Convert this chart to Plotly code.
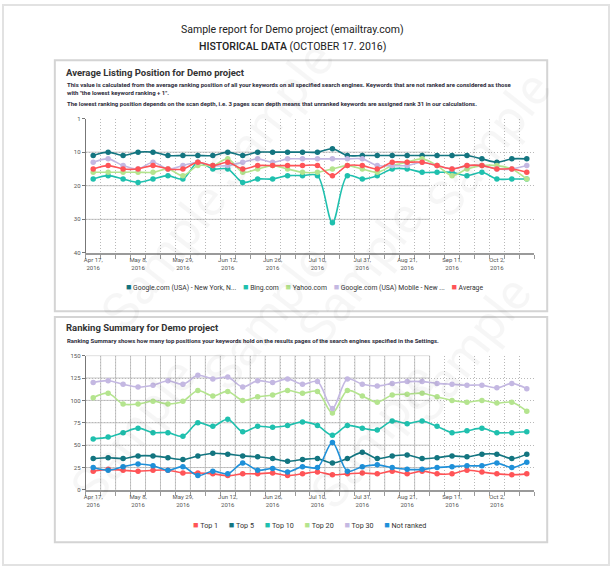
import plotly.graph_objects as go

W, H = 610, 569

# ---------------- data ----------------
dates = ["Apr 17", "Apr 24", "May 1", "May 8", "May 15", "May 22", "May 29", "Jun 1",
         "Jun 5", "Jun 12", "Jun 15", "Jun 19", "Jun 26", "Jun 29", "Jul 3", "Jul 10",
         "Jul 17", "Jul 24", "Jul 31", "Aug 7", "Aug 14", "Aug 21", "Aug 28", "Sep 4",
         "Sep 11", "Sep 18", "Sep 25", "Oct 2", "Oct 9", "Oct 16"]
labelled_dates = ["Apr 17", "May 8", "May 29", "Jun 12", "Jun 26", "Jul 10",
                  "Jul 31", "Aug 21", "Sep 11", "Oct 2"]
year = "2016"

# Average listing position (rank)
google = [11, 10, 11, 10, 10, 11, 11, 11, 11, 10, 11, 10, 10, 10, 10,
          10, 9, 11, 11, 11, 11, 11, 11, 11, 11, 11, 12, 13, 12, 12]
bing = [18, 17, 18, 19, 18, 17, 18, 13, 15, 15, 19, 18, 18, 17, 17,
        17, 31, 17, 18, 17, 15, 15, 16, 16, 16, 17, 16, 18, 18, 18]
yahoo = [16, 16, 16, 16, 16, 15, 17, 14, 14, 12, 16, 15, 14, 15, 16,
         16, 15, 14, 15, 16, 14, 13, 12, 14, 17, 15, 14, 14, 15, 18]
mobile = [13, 12, 14, 15, 13, 15, 14, 13, 14, 14, 13, 12, 13, 12, 12,
          12, 12, 12, 12, 14, 14, 14, 13, 14, 15, 14, 14, 15, 15, 14]
average = [15, 14, 15, 15, 14, 15, 15, 13, 14, 13, 15, 14, 14, 14, 14,
           14, 17, 14, 14, 15, 13, 13, 13, 14, 15, 14, 14, 15, 15, 16]
pos_names = ["Google.com (USA) - New York, N...", "Bing.com", "Yahoo.com",
             "Google.com (USA) Mobile - New ...", "Average"]
pos_colors = ["#137580", "#1fc0ae", "#b4e48e", "#c4b8e2", "#ff5457"]
pos_ticks = [0, 10, 20, 30, 40]
pos_ticktext = ["1", "10", "20", "30", "40"]

# Ranking summary (keyword counts)
top1 = [21, 23, 22, 21, 22, 22, 19, 19, 18, 16, 18, 18, 19, 16, 18,
        20, 17, 18, 19, 18, 21, 18, 21, 18, 18, 22, 20, 18, 17, 18]
top5 = [35, 36, 35, 38, 38, 36, 34, 38, 41, 40, 38, 37, 35, 32, 34,
        35, 30, 35, 42, 35, 38, 39, 35, 36, 38, 37, 40, 40, 35, 40]
top10 = [57, 59, 64, 69, 64, 64, 60, 75, 71, 79, 65, 71, 70, 72, 76,
         72, 61, 72, 69, 67, 77, 74, 77, 71, 64, 66, 69, 64, 64, 65]
top20 = [103, 108, 96, 96, 99, 96, 99, 111, 105, 110, 100, 104, 106, 111, 108,
         110, 86, 111, 105, 98, 106, 107, 108, 104, 100, 98, 100, 97, 98, 88]
top30 = [120, 122, 118, 115, 117, 122, 118, 128, 124, 126, 115, 122, 120, 124, 118,
         121, 91, 124, 118, 116, 119, 121, 121, 119, 118, 117, 117, 114, 119, 113]
not_ranked = [25, 22, 26, 29, 27, 22, 26, 16, 21, 18, 30, 22, 24, 20, 26,
              25, 53, 21, 26, 28, 25, 23, 23, 25, 26, 27, 27, 30, 25, 31]
sum_names = ["Top 1", "Top 5", "Top 10", "Top 20", "Top 30", "Not ranked"]
sum_colors = ["#ff5457", "#137580", "#1fc0ae", "#b4e48e", "#c4b8e2", "#1e90d9"]
sum_ticks = [0, 25, 50, 75, 100, 125, 150]

# ---------------- helpers (layout only) ----------------
def px(x):
    return x / W

def py(y):
    return 1 - y / H

FONT = "Roboto, 'Open Sans', sans-serif"
ticktext_x = [(d + ",<br>" + year) if d in labelled_dates else "" for d in dates]
n_solid = 23   # the reference grid is drawn solid over the first 23 columns only

fig = go.Figure()

pos_series = [google, bing, yahoo, mobile, average]
for name, color, vals in zip(pos_names, pos_colors, pos_series):
    fig.add_trace(go.Scatter(
        x=dates, y=vals, name=name, mode="lines+markers",
        line=dict(color=color, width=1.6, shape="spline", smoothing=0.9),
        marker=dict(color=color, size=5.5),
        xaxis="x", yaxis="y", showlegend=False))

sum_series = [top1, top5, top10, top20, top30, not_ranked]
for name, color, vals in zip(sum_names, sum_colors, sum_series):
    fig.add_trace(go.Scatter(
        x=dates, y=vals, name=name, mode="lines+markers",
        line=dict(color=color, width=1.6, shape="spline", smoothing=0.9),
        marker=dict(color=color, size=5.5),
        xaxis="x2", yaxis="y2", showlegend=False))

GRID = "#c6c6c6"
DOT = "1px,2px"
xcommon = dict(
    type="category", range=[-0.5, len(dates) - 0.5],
    tickmode="array", tickvals=dates, ticktext=ticktext_x,
    tickson="boundaries", ticks="outside", ticklen=4, tickcolor="#9a9a9a",
    showline=True, linecolor="#9a9a9a", linewidth=1.5,
    tickfont=dict(family=FONT, size=6, color="#555"),
    showgrid=True, gridcolor="#b8b8b8", gridwidth=1, griddash=DOT, tickangle=0,
    fixedrange=True,
)
ycommon = dict(
    ticks="outside", ticklen=3, tickcolor="#777",
    showline=True, linecolor="#777", linewidth=1,
    tickfont=dict(family=FONT, size=6, color="#555"),
    showgrid=True, gridcolor="#b8b8b8", gridwidth=1, griddash=DOT, zeroline=False,
    fixedrange=True,
)

x1 = dict(xcommon, domain=[px(84), px(534)], anchor="y")
y1 = dict(ycommon, domain=[py(252), py(116)], anchor="x", range=[40, 0],
          tickmode="array", tickvals=pos_ticks, ticktext=pos_ticktext)
x2 = dict(xcommon, domain=[px(84), px(534)], anchor="y2")
y2 = dict(ycommon, domain=[py(492), py(356)], anchor="x2", range=[0, 150],
          tickmode="array", tickvals=sum_ticks)

shapes = [
    dict(type="rect", xref="paper", yref="paper", x0=px(1), x1=px(609), y0=py(568), y1=py(1),
         line=dict(color="#e2e2e2", width=2), layer="below"),
    dict(type="rect", xref="paper", yref="paper", x0=px(53), x1=px(547), y0=py(311), y1=py(57),
         line=dict(color="#d4d4d4", width=2), layer="below"),
    dict(type="rect", xref="paper", yref="paper", x0=px(53), x1=px(547), y0=py(545), y1=py(317),
         line=dict(color="#d4d4d4", width=2), layer="below"),
]
# solid part of the grids (the reference shows solid grid lines on the left part only)
solid = dict(color=GRID, width=1)
for v in pos_ticks[1:-1]:
    shapes.append(dict(type="line", xref="x", yref="y", x0=-0.5, x1=n_solid - 0.5,
                       y0=v, y1=v, line=solid, layer="below"))
for v in sum_ticks[1:]:
    shapes.append(dict(type="line", xref="x2", yref="y2", x0=-0.5, x1=n_solid - 0.5,
                       y0=v, y1=v, line=solid, layer="below"))
for i in range(1, n_solid + 1):
    shapes.append(dict(type="line", xref="x2", yref="y2", x0=i - 0.5, x1=i - 0.5,
                       y0=sum_ticks[0], y1=sum_ticks[-1], line=solid, layer="below"))

def legend_text(names, colors, gap):
    parts = []
    for n, c in zip(names, colors):
        parts.append("<span style='color:%s;font-size:9px'>\u25a0</span>\u00a0%s" % (c, n))
    return ("\u00a0" * gap).join(parts)

annotations = [
    dict(text="Sample report for Demo project (emailtray.com)", x=px(291), y=py(26),
         font=dict(family=FONT, size=10.5, color="#222")),
    dict(text="<span style='font-weight:500'>HISTORICAL DATA</span> (OCTOBER 17. 2016)",
         x=px(291), y=py(43), font=dict(family=FONT, size=10.5, color="#222")),
    dict(text="<b>Average Listing Position for Demo project</b>", x=px(62), y=py(69),
         xanchor="left", font=dict(family=FONT, size=9.5, color="#333")),
    dict(text="<b>This value is calculated from the average ranking position of all your keywords on all specified search engines. "
              "Keywords that are not ranked are considered as those<br>with \"the lowest keyword ranking + 1\".</b>",
         x=px(63), y=py(86), xanchor="left", align="left",
         font=dict(family=FONT, size=6, color="#2b2b3a")),
    dict(text="<b>The lowest ranking position depends on the scan depth, i.e. 3 pages scan depth means that unranked keywords are assigned rank 31 in our calculations.</b>",
         x=px(63), y=py(101), xanchor="left", align="left",
         font=dict(family=FONT, size=6, color="#2b2b3a")),
    dict(text=legend_text(pos_names, pos_colors, 4), x=px(303), y=py(287),
         font=dict(family=FONT, size=6.8, color="#333")),
    dict(text="<b>Ranking Summary for Demo project</b>", x=px(62), y=py(328),
         xanchor="left", font=dict(family=FONT, size=9.5, color="#333")),
    dict(text="<b>Ranking Summary shows how many top positions your keywords hold on the results pages of the search engines specified in the Settings.</b>",
         x=px(63), y=py(341), xanchor="left", align="left",
         font=dict(family=FONT, size=6, color="#2b2b3a")),
    dict(text=legend_text(sum_names, sum_colors, 6), x=px(309), y=py(527),
         font=dict(family=FONT, size=7.2, color="#333")),
]
for a in annotations:
    a.update(xref="paper", yref="paper", showarrow=False)
    a.setdefault("xanchor", "center")
    a.setdefault("yanchor", "middle")

# watermark
for cx, cy in [(565, 55), (270, 25), (85, 255), (360, 185), (545, 350),
               (265, 405), (55, 520), (450, 525)]:
    annotations.append(dict(text="Sample", x=px(cx), y=py(cy), xref="paper", yref="paper",
                            showarrow=False, textangle=-52,
                            font=dict(family=FONT, size=50, color="rgba(0,0,0,0.035)")))

fig.update_layout(
    width=W, height=H, autosize=False,
    margin=dict(l=0, r=0, t=0, b=0),
    paper_bgcolor="white", plot_bgcolor="white",
    xaxis=x1, yaxis=y1, xaxis2=x2, yaxis2=y2,
    shapes=shapes, annotations=annotations,
    showlegend=False, hovermode=False,
    font=dict(family=FONT),
)

fig.write_html("out.html", config={"displayModeBar": False})
